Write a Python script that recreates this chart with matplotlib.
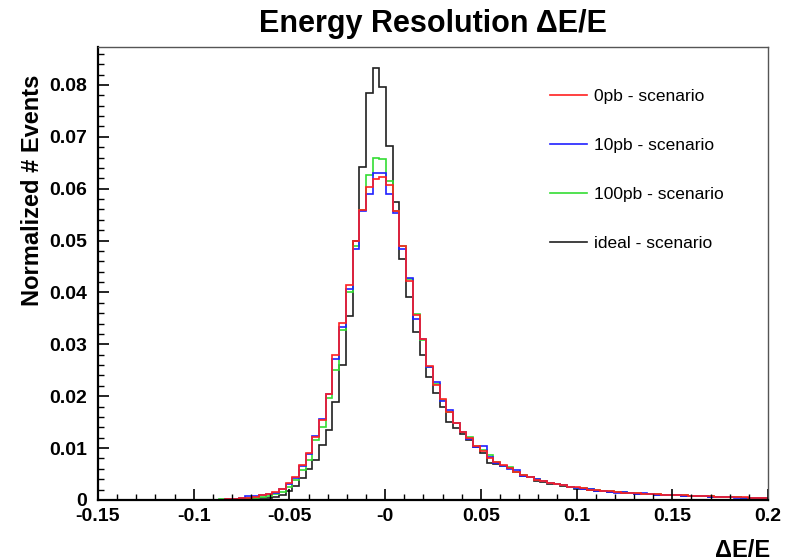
import numpy as np
import matplotlib
matplotlib.use("Agg")
import matplotlib.pyplot as plt
from matplotlib.ticker import MultipleLocator, FixedLocator, FixedFormatter

plt.rcParams['font.family'] = ['Liberation Sans', 'DejaVu Sans']

# histogram binning (100 bins, -0.15 .. 0.2)
x_min, x_max, n_bins = -0.15, 0.2, 100

zeros = [0.0] * 18

# 0pb scenario (red)
h_0pb = zeros + [
    0.0000, 0.0001, 0.0002, 0.0003, 0.0004, 0.0006, 0.0009, 0.0012, 0.0015, 0.0022,
    0.0033, 0.0045, 0.0068, 0.0091, 0.0122, 0.0154, 0.0205, 0.0279, 0.0341, 0.0415,
    0.0500, 0.0558, 0.0603, 0.0619, 0.0622, 0.0608, 0.0556, 0.0490, 0.0423, 0.0356,
    0.0311, 0.0258, 0.0222, 0.0194, 0.0170, 0.0149, 0.0131, 0.0119, 0.0104, 0.0095,
    0.0080, 0.0073, 0.0067, 0.0062, 0.0054, 0.0048, 0.0044, 0.0039, 0.0036, 0.0032,
    0.0031, 0.0028, 0.0026, 0.0025, 0.0023, 0.0020, 0.0019, 0.0017, 0.0017, 0.0015,
    0.0014, 0.0014, 0.0013, 0.0012, 0.0011, 0.0011, 0.0010, 0.0010, 0.0009, 0.0009,
    0.0008, 0.0008, 0.0007, 0.0007, 0.0006, 0.0006, 0.0005, 0.0005, 0.0005, 0.0004,
    0.0004, 0.0004]

# 10pb scenario (blue)
h_10pb = zeros + [
    0.0000, 0.0001, 0.0002, 0.0004, 0.0007, 0.0008, 0.0009, 0.0011, 0.0014, 0.0021,
    0.0031, 0.0042, 0.0066, 0.0088, 0.0123, 0.0157, 0.0205, 0.0272, 0.0333, 0.0407,
    0.0484, 0.0556, 0.0590, 0.0630, 0.0630, 0.0590, 0.0553, 0.0484, 0.0428, 0.0349,
    0.0311, 0.0257, 0.0228, 0.0190, 0.0174, 0.0149, 0.0131, 0.0117, 0.0103, 0.0104,
    0.0082, 0.0072, 0.0066, 0.0060, 0.0057, 0.0047, 0.0045, 0.0041, 0.0036, 0.0032,
    0.0030, 0.0028, 0.0025, 0.0024, 0.0022, 0.0022, 0.0018, 0.0017, 0.0016, 0.0014,
    0.0015, 0.0013, 0.0012, 0.0013, 0.0011, 0.0010, 0.0010, 0.0009, 0.0009, 0.0008,
    0.0008, 0.0007, 0.0007, 0.0006, 0.0006, 0.0005, 0.0005, 0.0003, 0.0004, 0.0004,
    0.0003, 0.0003]

# 100pb scenario (green)
h_100pb = zeros + [
    0.0001, 0.0001, 0.0001, 0.0002, 0.0003, 0.0004, 0.0006, 0.0008, 0.0011, 0.0016,
    0.0026, 0.0038, 0.0058, 0.0077, 0.0115, 0.0141, 0.0196, 0.0250, 0.0327, 0.0400,
    0.0490, 0.0558, 0.0627, 0.0660, 0.0657, 0.0614, 0.0556, 0.0490, 0.0425, 0.0359,
    0.0308, 0.0257, 0.0224, 0.0192, 0.0170, 0.0148, 0.0131, 0.0121, 0.0104, 0.0097,
    0.0086, 0.0073, 0.0066, 0.0064, 0.0054, 0.0049, 0.0044, 0.0040, 0.0037, 0.0032,
    0.0031, 0.0028, 0.0026, 0.0024, 0.0023, 0.0021, 0.0019, 0.0018, 0.0017, 0.0015,
    0.0015, 0.0014, 0.0013, 0.0012, 0.0011, 0.0011, 0.0010, 0.0010, 0.0009, 0.0009,
    0.0008, 0.0008, 0.0007, 0.0007, 0.0006, 0.0006, 0.0005, 0.0005, 0.0004, 0.0004,
    0.0004, 0.0003]

# ideal scenario (black)
h_ideal = zeros + [
    0.0000, 0.0000, 0.0000, 0.0001, 0.0001, 0.0002, 0.0003, 0.0004, 0.0005, 0.0009,
    0.0017, 0.0027, 0.0043, 0.0060, 0.0077, 0.0106, 0.0135, 0.0189, 0.0260, 0.0354,
    0.0500, 0.0641, 0.0784, 0.0832, 0.0796, 0.0683, 0.0574, 0.0464, 0.0391, 0.0324,
    0.0280, 0.0237, 0.0206, 0.0179, 0.0151, 0.0138, 0.0128, 0.0116, 0.0102, 0.0090,
    0.0072, 0.0070, 0.0066, 0.0061, 0.0053, 0.0046, 0.0044, 0.0037, 0.0035, 0.0031,
    0.0030, 0.0027, 0.0025, 0.0021, 0.0022, 0.0020, 0.0018, 0.0017, 0.0016, 0.0015,
    0.0014, 0.0013, 0.0012, 0.0012, 0.0011, 0.0010, 0.0010, 0.0009, 0.0009, 0.0008,
    0.0008, 0.0007, 0.0007, 0.0006, 0.0006, 0.0005, 0.0005, 0.0005, 0.0004, 0.0004,
    0.0004, 0.0003]

labels = ["0pb - scenario", "10pb - scenario", "100pb - scenario", "ideal - scenario"]
colors = ["#ff2020", "#2020ff", "#33dd33", "#202020"]

xticks = [-0.15, -0.1, -0.05, 0.0, 0.05, 0.1, 0.15, 0.2]
xtick_labels = ["-0.15", "-0.1", "-0.05", "-0", "0.05", "0.1", "0.15", "0.2"]
yticks = [0.0, 0.01, 0.02, 0.03, 0.04, 0.05, 0.06, 0.07, 0.08]
ytick_labels = ["0", "0.01", "0.02", "0.03", "0.04", "0.05", "0.06", "0.07", "0.08"]

edges = np.linspace(x_min, x_max, n_bins + 1)

fig = plt.figure(figsize=(7.95, 5.6), dpi=100)
ax = fig.add_axes([98/795, 60/560, 670/795, 453/560])

# draw order: ideal first, 0pb on top
series = [h_0pb, h_10pb, h_100pb, h_ideal]
handles = [None]*4
for idx in [3, 2, 1, 0]:
    handles[idx] = ax.stairs(series[idx], edges, color=colors[idx], lw=1.2, label=labels[idx])

ax.set_xlim(x_min, x_max)
ax.set_ylim(0, 0.0873)

ax.xaxis.set_major_locator(FixedLocator(xticks))
ax.xaxis.set_major_formatter(FixedFormatter(xtick_labels))
ax.xaxis.set_minor_locator(MultipleLocator(0.01))
ax.yaxis.set_major_locator(FixedLocator(yticks))
ax.yaxis.set_major_formatter(FixedFormatter(ytick_labels))
ax.yaxis.set_minor_locator(MultipleLocator(0.002))

ax.tick_params(which='both', direction='in', top=False, right=False)
ax.tick_params(which='major', length=8, width=1.2, labelsize=14)
ax.tick_params(axis='y', which='major', pad=8)
ax.tick_params(axis='x', which='major', pad=6)
ax.tick_params(which='minor', length=4, width=1.0)
for lab in ax.get_xticklabels() + ax.get_yticklabels():
    lab.set_fontweight('bold')

for s in ['left', 'bottom']:
    ax.spines[s].set_linewidth(1.6)
    ax.spines[s].set_color('black')
for s in ['top', 'right']:
    ax.spines[s].set_linewidth(1.0)
    ax.spines[s].set_color('#555555')

ax.set_title("Energy Resolution \u0394E/E", fontsize=22, fontweight='bold', pad=11)
ax.set_ylabel("Normalized # Events", fontsize=17, fontweight='bold', loc='top')
ax.yaxis.set_label_coords(-0.08, 0.938)
ax.set_xlabel("\u0394E/E", fontsize=17, fontweight='bold', loc='right')
ax.xaxis.set_label_coords(1.003, -0.085)

ax.legend(handles=handles, labels=labels, loc='upper left', bbox_to_anchor=(0.675, 0.908),
          frameon=False, fontsize=12.5, handlelength=2.1, handletextpad=0.4,
          labelspacing=1.95, borderpad=0, borderaxespad=0)

fig.savefig("out.png", dpi=100)
